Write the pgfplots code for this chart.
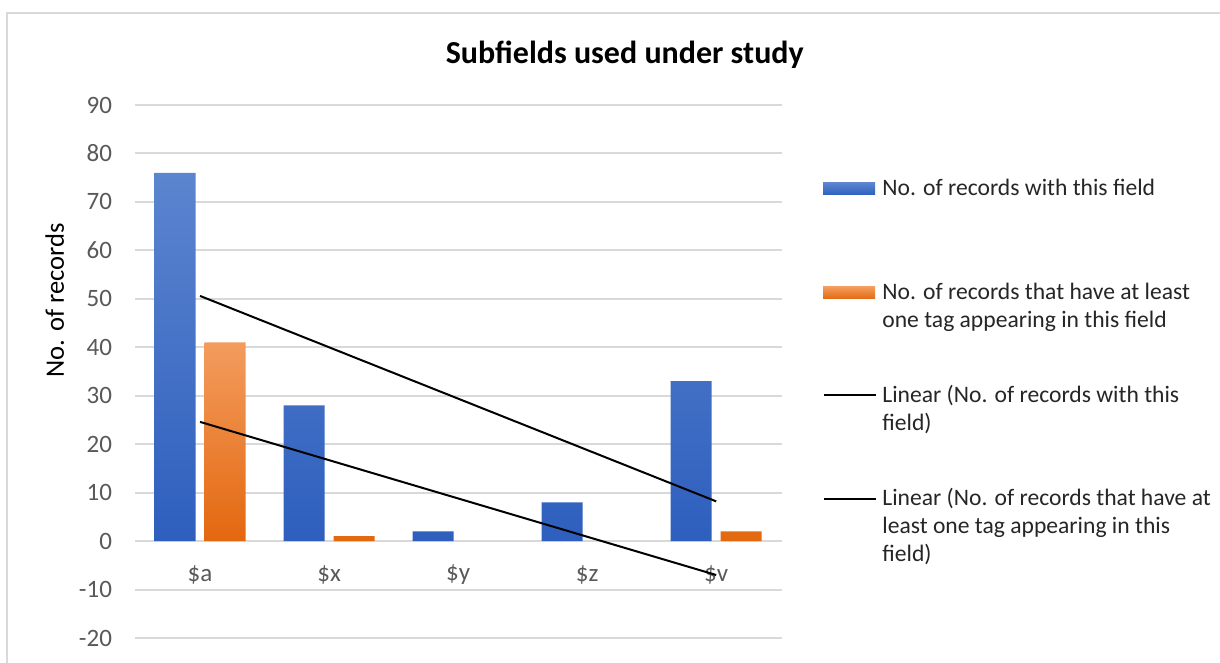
\documentclass[border=0pt]{standalone}
\usepackage{pgfplots}
\pgfplotsset{compat=1.18}
\usepackage{fontspec}
\setmainfont{Carlito}
\definecolor{gridgray}{HTML}{D9D9D9}
\definecolor{ticktext}{HTML}{595959}
\definecolor{blueTop}{HTML}{5C85CF}
\definecolor{blueBot}{HTML}{2E5FBE}
\definecolor{orTop}{HTML}{F39C5E}
\definecolor{orBot}{HTML}{E3680F}
\definecolor{legtext}{HTML}{262626}
\begin{document}
\begin{tikzpicture}
\path[use as bounding box] (0,0) rectangle (610pt,331.5pt);
\fill[white] (0,0) rectangle (610pt,331.5pt);
\draw[gridgray, line width=1pt] (3.5pt,0) -- (3.5pt,325pt) -- (610pt,325pt);
\begin{axis}[
  at={(67.5pt,12.5pt)}, anchor=south west,
  scale only axis, width=323.5pt, height=266.5pt,
  xmin=-0.504, xmax=4.51, ymin=-20, ymax=90,
  xtick={0,1,2,3,4}, xticklabels={\$a,\$x,\$y,\$z,\$v},
  ytick={-20,-10,0,10,20,30,40,50,60,70,80,90},
  yticklabels={-20,-10,0,10,20,30,40,50,60,70,80,90},
  ymajorgrids, grid style={gridgray, line width=1pt},
  axis line style={draw=none}, major tick length=0pt,
  tick label style={font=\fontsize{12.5}{14}\selectfont, text=ticktext},
  xticklabel style={anchor=center, yshift=31.5pt},
  yticklabel style={anchor=east, xshift=-8pt},
  ylabel={No. of records},
  every axis y label/.style={at={(axis description cs:-0.124,0.634)}, rotate=90, anchor=center, font=\fontsize{13.3}{15}\selectfont, text=black},
  title={\textbf{Subfields used under study}},
  every axis title/.style={at={(axis description cs:0.757,1.077)}, anchor=base, font=\fontsize{16}{18}\selectfont, text=black},
  unbounded coords=discard,
  clip=false,
]
% No. of records with this field
\addplot[ybar, bar width=20.5pt, bar shift=-12.5pt, draw=none, top color=blueTop, bottom color=blueBot]
  coordinates {(0,76) (1,28) (2,2) (3,8) (4,33)};
% No. of records that have at least one tag appearing in this field ($y and $z are 0)
\addplot[ybar, bar width=20.5pt, bar shift=12.5pt, draw=none, top color=orTop, bottom color=orBot,
  y filter/.expression={y==0 ? nan : y}]
  coordinates {(0,41) (1,1) (2,0) (3,0) (4,2)};
% Linear trend lines
\addplot[black, line width=1pt] coordinates {(0,50.6) (4,8.2)};
\addplot[black, line width=1pt] coordinates {(0,24.6) (4,-7.0)};
\end{axis}
% legend
\begin{scope}[every node/.style={anchor=base west, inner sep=0pt, text=legtext, font=\fontsize{11.8}{13}\selectfont}]
\shade[top color=blueTop, bottom color=blueBot] (411.5pt,234pt) rectangle (437.5pt,240pt);
\node at (441pt,233.5pt) {No. of records with this field};
\shade[top color=orTop, bottom color=orBot] (411.5pt,182pt) rectangle (437.5pt,188pt);
\node at (441pt,181.5pt) {No. of records that have at least};
\node at (441pt,167.5pt) {one tag appearing in this field};
\draw[black, line width=1pt] (412pt,134pt) -- (438pt,134pt);
\node at (441pt,130pt) {Linear (No. of records with this};
\node at (441pt,116pt) {field)};
\draw[black, line width=1pt] (412pt,82pt) -- (438pt,82pt);
\node at (441pt,78.5pt) {Linear (No. of records that have at};
\node at (441pt,64.5pt) {least one tag appearing in this};
\node at (441pt,50.5pt) {field)};
\end{scope}
\end{tikzpicture}
\end{document}
